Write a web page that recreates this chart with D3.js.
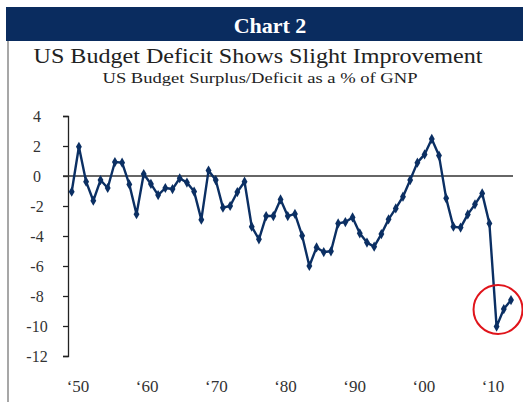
<!DOCTYPE html>
<html>
<head>
<meta charset="utf-8">
<script src="https://cdn.jsdelivr.net/npm/d3@7"></script>
<style>
  body { margin: 0; background: #fff; }
  svg { display: block; font-family: "Liberation Serif", "DejaVu Serif", serif; }
</style>
</head>
<body>
<div id="wrapper"></div>
<script>
// data (US budget surplus/deficit, % of GNP)
const years = [
  1950, 1951, 1952, 1953, 1954, 1955, 1956, 1957, 1958, 1959,
  1960, 1961, 1962, 1963, 1964, 1965, 1966, 1967, 1968, 1969,
  1970, 1971, 1972, 1973, 1974, 1975, 1976, 1977, 1978, 1979,
  1980, 1981, 1982, 1983, 1984, 1985, 1986, 1987, 1988, 1989,
  1990, 1991, 1992, 1993, 1994, 1995, 1996, 1997, 1998, 1999,
  2000, 2001, 2002, 2003, 2004, 2005, 2006, 2007, 2008, 2009,
  2010, 2011
];
const deficit = [
  -1.05, 1.95, -0.38, -1.65, -0.27, -0.8, 0.93, 0.89, -0.56, -2.55,
  0.13, -0.53, -1.27, -0.8, -0.87, -0.15, -0.44, -1.04, -2.91, 0.36,
  -0.27, -2.11, -2.0, -1.07, -0.38, -3.38, -4.22, -2.67, -2.67, -1.56,
  -2.67, -2.53, -3.98, -6.0, -4.76, -5.07, -5.02, -3.16, -3.07, -2.76,
  -3.82, -4.44, -4.71, -3.87, -2.89, -2.16, -1.38, -0.27, 0.89, 1.44,
  2.47, 1.36, -1.49, -3.38, -3.44, -2.56, -1.89, -1.16, -3.16, -10.04,
  -8.87, -8.27
];
const yTicks = [4, 2, 0, -2, -4, -6, -8, -10, -12];
const xTickLabels = ["\u201850", "\u201860", "\u201870", "\u201880", "\u201890", "\u201800", "\u201810"];
// annotation circle around the latest readings
const highlight = { year: 2009.2, value: -8.9 };

const dataset = years.map((y, i) => ({ year: y, value: deficit[i] }));
const xAccessor = (d) => d.year;
const yAccessor = (d) => d.value;

const navy = "#0b2f63";

const dimensions = {
  width: 523,
  height: 402,
  plot: { left: 68, right: 513, top: 116, bottom: 356 },
};

const wrapper = d3
  .select("#wrapper")
  .append("svg")
  .attr("width", dimensions.width)
  .attr("height", dimensions.height);

// header band
wrapper.append("rect")
  .attr("x", 6).attr("y", 7)
  .attr("width", dimensions.width - 6).attr("height", 34)
  .attr("fill", "#0a2c5f");

wrapper.append("text")
  .attr("x", 270).attr("y", 33)
  .attr("text-anchor", "middle")
  .attr("fill", "#fff")
  .attr("font-weight", "bold")
  .attr("font-size", 22)
  .text("Chart 2");

// left frame line
wrapper.append("line")
  .attr("x1", 8).attr("x2", 8)
  .attr("y1", 41).attr("y2", dimensions.height)
  .attr("stroke", "#8a8a8a")
  .attr("stroke-width", 1.5);

wrapper.append("text")
  .attr("x", 258).attr("y", 63)
  .attr("text-anchor", "middle")
  .attr("fill", "#222")
  .attr("font-size", 22)
  .attr("textLength", 449)
  .attr("lengthAdjust", "spacingAndGlyphs")
  .text("US Budget Deficit Shows Slight Improvement");

wrapper.append("text")
  .attr("x", 260).attr("y", 83)
  .attr("text-anchor", "middle")
  .attr("fill", "#222")
  .attr("font-size", 15)
  .attr("textLength", 315)
  .attr("lengthAdjust", "spacingAndGlyphs")
  .text("US Budget Surplus/Deficit as a % of GNP");

// scales
const xScale = d3.scaleLinear()
  .domain([1950, 2011])
  .range([71.7, 511]);

const yScale = d3.scaleLinear()
  .domain([-12, 4])
  .range([dimensions.plot.bottom, dimensions.plot.top]);

const labelScale = d3.scalePoint()
  .domain(xTickLabels)
  .range([78, 493]);

// y axis
const yAxisGenerator = d3.axisLeft(yScale)
  .tickValues(yTicks)
  .tickSize(5)
  .tickSizeOuter(5)
  .tickFormat(d3.format("d"));

const yAxis = wrapper.append("g")
  .attr("transform", `translate(${dimensions.plot.left},0)`)
  .call(yAxisGenerator);

yAxis.select(".domain").attr("stroke", "#222").attr("stroke-width", 1.3);
yAxis.selectAll(".tick line").attr("stroke", "#222").attr("stroke-width", 1.3);
yAxis.selectAll(".tick text")
  .attr("x", 37 - dimensions.plot.left)
  .attr("text-anchor", "middle")
  .attr("fill", "#333")
  .attr("font-size", 16)
  .attr("font-family", "Liberation Serif, serif")
  .text((d) => (d < 0 ? "-" + Math.abs(d) : d));

// zero line
wrapper.append("line")
  .attr("x1", dimensions.plot.left - 5)
  .attr("x2", dimensions.plot.right)
  .attr("y1", yScale(0))
  .attr("y2", yScale(0))
  .attr("stroke", "#333")
  .attr("stroke-width", 1.3);

// x labels
wrapper.append("g")
  .selectAll("text")
  .data(xTickLabels)
  .join("text")
  .attr("x", (d) => labelScale(d))
  .attr("y", 392)
  .attr("text-anchor", "middle")
  .attr("fill", "#333")
  .attr("font-size", 17)
  .text((d) => d);

// series line
const lineGenerator = d3.line()
  .x((d) => xScale(xAccessor(d)))
  .y((d) => yScale(yAccessor(d)));

wrapper.append("path")
  .datum(dataset)
  .attr("d", lineGenerator)
  .attr("fill", "none")
  .attr("stroke", navy)
  .attr("stroke-width", 2.4)
  .attr("stroke-linejoin", "round");

wrapper.append("g")
  .selectAll("path")
  .data(dataset)
  .join("path")
  .attr("d", d3.symbol(d3.symbolDiamond, 30))
  .attr("transform", (d) => `translate(${xScale(xAccessor(d))},${yScale(yAccessor(d))})`)
  .attr("fill", navy);

// red highlight circle
wrapper.append("circle")
  .attr("cx", xScale(highlight.year))
  .attr("cy", yScale(highlight.value))
  .attr("r", 24.5)
  .attr("fill", "none")
  .attr("stroke", "#e0141b")
  .attr("stroke-width", 2);
</script>
</body>
</html>
